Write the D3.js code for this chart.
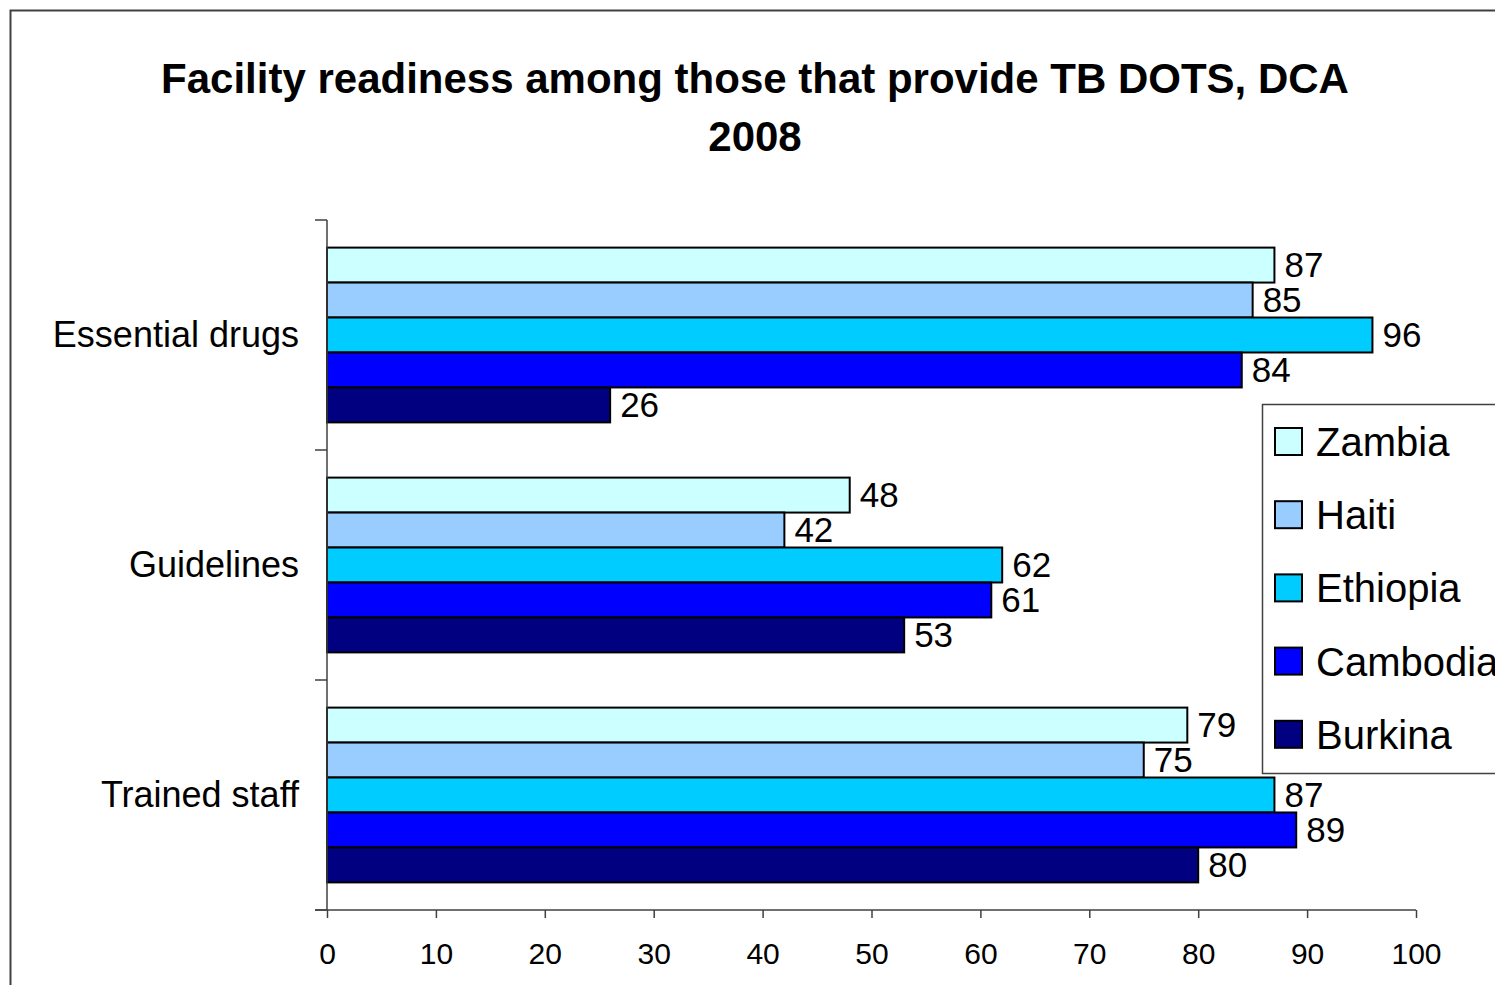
<!DOCTYPE html>
<html>
<head>
<meta charset="utf-8">
<script src="https://cdn.jsdelivr.net/npm/d3@7"></script>
<style>
  body { margin: 0; background: #fff; }
  text { font-family: "Liberation Sans", Arial, sans-serif; }
</style>
</head>
<body>
<script>
// data
var categories = ["Essential drugs", "Guidelines", "Trained staff"];
var countries = ["Zambia", "Haiti", "Ethiopia", "Cambodia", "Burkina"];
var colors = ["#CCFFFF", "#99CCFF", "#00CCFF", "#0000FF", "#000080"];
var zambia = [87, 48, 79];
var haiti = [85, 42, 75];
var ethiopia = [96, 62, 87];
var cambodia = [84, 61, 89];
var burkina = [26, 53, 80];
var xTicks = [0, 10, 20, 30, 40, 50, 60, 70, 80, 90, 100];

var seriesValues = [zambia, haiti, ethiopia, cambodia, burkina];

var w = 1495;
var h = 985;

var svg = d3.select("body").append("svg")
  .attr("width", w)
  .attr("height", h);

// outer chart border
svg.append("rect")
  .attr("x", 10.5).attr("y", 10.5)
  .attr("width", w + 20).attr("height", h + 20)
  .attr("fill", "#fff")
  .attr("stroke", "#404040")
  .attr("stroke-width", 2);

// title
var title = svg.append("text")
  .attr("text-anchor", "middle")
  .attr("font-weight", "bold")
  .attr("font-size", 42)
  .attr("fill", "#000");
title.append("tspan").attr("x", 755).attr("y", 93).text("Facility readiness among those that provide TB DOTS, DCA");
title.append("tspan").attr("x", 755).attr("y", 151).text("2008");

var plotLeft = 327, plotRight = 1416, plotTop = 220, plotBottom = 910;

var x = d3.scaleLinear().domain([0, 100]).range([plotLeft, plotRight]);

var y0 = d3.scaleBand().domain(categories).range([plotTop, plotBottom]).paddingInner(0.24).paddingOuter(0.12);
var y1 = d3.scaleBand().domain(countries).range([0, y0.bandwidth()]);

// bars
var groups = svg.selectAll("g.cat")
  .data(categories)
  .enter()
  .append("g")
  .attr("class", "cat")
  .attr("transform", function(d) { return "translate(0," + y0(d) + ")"; });

groups.selectAll("rect")
  .data(function(d, i) {
    return countries.map(function(c, j) { return { country: c, value: seriesValues[j][i], color: colors[j] }; });
  })
  .enter()
  .append("rect")
  .attr("x", x(0))
  .attr("y", function(d) { return y1(d.country); })
  .attr("width", function(d) { return x(d.value) - x(0); })
  .attr("height", y1.bandwidth())
  .attr("fill", function(d) { return d.color; })
  .attr("stroke", "#000")
  .attr("stroke-width", 2);

groups.selectAll("text")
  .data(function(d, i) {
    return countries.map(function(c, j) { return { country: c, value: seriesValues[j][i] }; });
  })
  .enter()
  .append("text")
  .attr("x", function(d) { return x(d.value) + 10; })
  .attr("y", function(d) { return y1(d.country) + y1.bandwidth() / 2 + 12; })
  .attr("font-size", 35)
  .attr("fill", "#000")
  .text(function(d) { return d.value; });

// x axis
var xAxis = svg.append("g")
  .attr("transform", "translate(0," + plotBottom + ")")
  .call(d3.axisBottom(x).tickValues(xTicks).tickSize(8).tickSizeOuter(0).tickPadding(25));
xAxis.select(".domain").attr("stroke", "#404040").attr("stroke-width", 1.5)
  .attr("d", "M" + (plotLeft - 12) + ",0H" + plotRight);
xAxis.selectAll(".tick line").attr("stroke", "#404040").attr("stroke-width", 1.5);
xAxis.selectAll(".tick text").attr("font-size", 30).attr("fill", "#000")
  .attr("font-family", "'Liberation Sans', Arial, sans-serif");

// y axis
svg.append("line")
  .attr("x1", plotLeft).attr("x2", plotLeft)
  .attr("y1", plotTop).attr("y2", plotBottom)
  .attr("stroke", "#404040").attr("stroke-width", 1.5);
svg.selectAll("line.ytick")
  .data(d3.range(categories.length + 1))
  .enter()
  .append("line")
  .attr("class", "ytick")
  .attr("x1", plotLeft - 12).attr("x2", plotLeft)
  .attr("y1", function(d) { return plotTop + d * y0.step(); })
  .attr("y2", function(d) { return plotTop + d * y0.step(); })
  .attr("stroke", "#404040").attr("stroke-width", 1.5);

svg.selectAll("text.ylab")
  .data(categories)
  .enter()
  .append("text")
  .attr("class", "ylab")
  .attr("x", plotLeft - 28)
  .attr("y", function(d) { return y0(d) + y0.bandwidth() / 2 + 12; })
  .attr("text-anchor", "end")
  .attr("font-size", 36)
  .attr("fill", "#000")
  .text(function(d) { return d; });

// legend
var legend = svg.append("g").attr("transform", "translate(1262,404)");
legend.append("rect")
  .attr("x", 0.5).attr("y", 0.5)
  .attr("width", 300).attr("height", 369)
  .attr("fill", "#fff")
  .attr("stroke", "#404040")
  .attr("stroke-width", 1.5);

var items = legend.selectAll("g.item")
  .data(countries)
  .enter()
  .append("g")
  .attr("class", "item")
  .attr("transform", function(d, i) { return "translate(0," + (37 + i * 73.2) + ")"; });
items.append("rect")
  .attr("x", 13).attr("y", -13)
  .attr("width", 27).attr("height", 27)
  .attr("fill", function(d, i) { return colors[i]; })
  .attr("stroke", "#000")
  .attr("stroke-width", 2);
items.append("text")
  .attr("x", 54)
  .attr("y", 15)
  .attr("font-size", 40)
  .attr("fill", "#000")
  .text(function(d) { return d; });
</script>
</body>
</html>
